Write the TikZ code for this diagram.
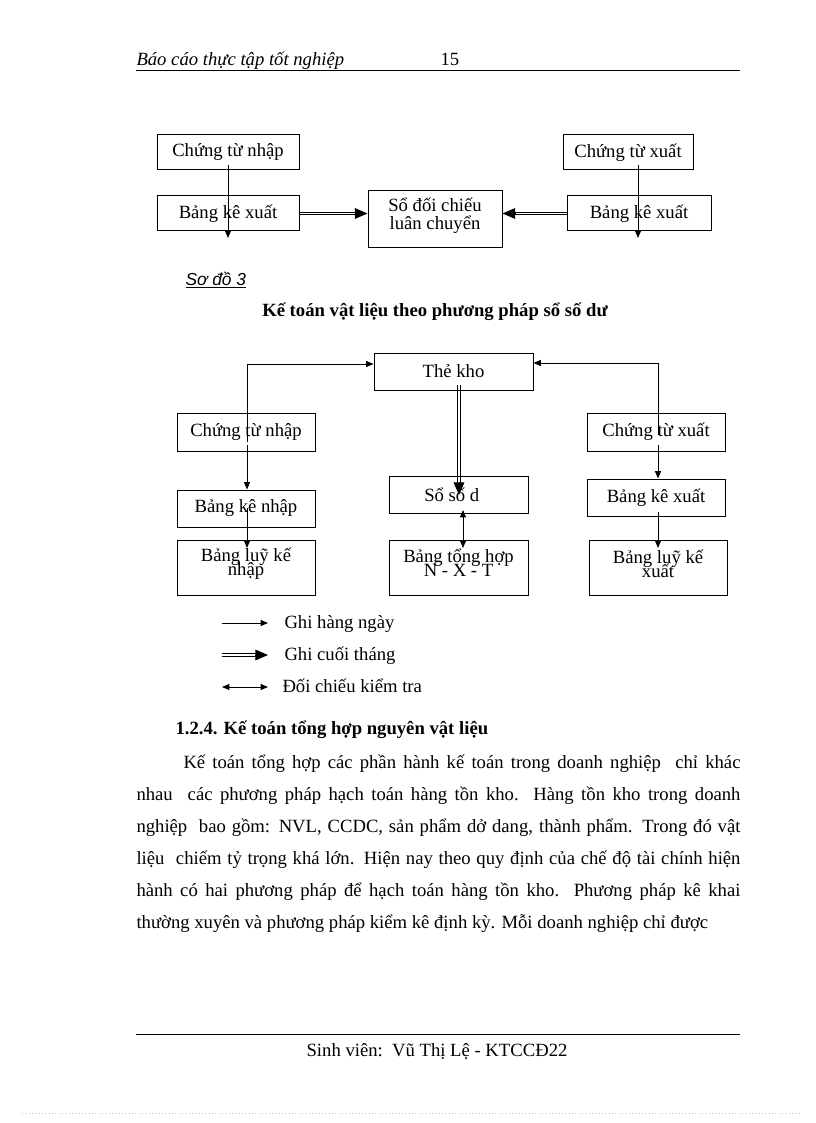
\documentclass[tikz,border=0pt]{standalone}
\usepackage{fontspec}
\usepackage{graphicx}
\setmainfont{Liberation Serif}
\newfontfamily\sansit{Liberation Sans}
\usetikzlibrary{arrows.meta,calc,backgrounds}
\newcommand\fsz{\fontsize{14}{16}\selectfont}
\newcommand\medls{\fontsize{14}{13.5}\selectfont\lineskiplimit-30pt\relax\lineskip0pt\relax}
\newcommand\tightls{\fontsize{14}{10.5}\selectfont\lineskiplimit-30pt\relax\lineskip0pt\relax}
\newsavebox\jlbox
\newcommand\justline[2]{\sbox\jlbox{#2}\ifdim\wd\jlbox>#1\relax\resizebox{#1}{\height}{\usebox\jlbox}\else\makebox[#1][s]{#2}\fi}
\tikzset{
  every node/.style={font=\fsz},
  box/.style 2 args={draw, line width=0.75pt, inner sep=0pt, minimum width=#1*0.75pt, minimum height=#2*0.75pt},
  txt/.style={inner sep=0pt, font=\fsz},
  twoline/.style={inner sep=0pt, align=center, font=\medls},
  tight/.style={inner sep=0pt, align=center, font=\tightls},
  sarr/.style={line width=0.75pt, -{Triangle[length=5.5pt,width=4.5pt]}},
  barr/.style={line width=0.75pt, {Triangle[length=5.5pt,width=4.5pt]}-{Triangle[length=5.5pt,width=4.5pt]}},
  dshaft/.style={double=white, double distance=1.4pt, line width=0.75pt, shorten >=7pt},
  dtip/.style={line width=0.75pt, -{Triangle[length=9.5pt,width=8pt]}},
}
\begin{document}
\begin{tikzpicture}[x=0.75pt,y=-0.75pt,line width=0.75pt]
\useasboundingbox (0,0) rectangle (816,1123);

% header
\node[txt, anchor=base west, font=\fsz\itshape] (hdr) at (136,66) {Báo cáo thực tập tốt nghiệp};
\node[txt, anchor=base west] (pg) at (440,66) {15};
\coordinate (hl1) at (136,71); \coordinate (hl2) at (740,71);
\draw (hl1) -- (hl2);

% top diagram
\node[box={142}{35}] (ctn1) at (228,152.5) {Chứng từ nhập};
\node[box={142}{35}] (bkx1) at (228,213.5) {Bảng kê xuất};
\node[box={134}{56}] (sdc) at (435,219) {};
\node[twoline] (sdct) at (435,216) {Sổ đối chiếu\\luân chuyển};
\node[box={130}{35}] (ctx1) at (628,152.5) {Chứng từ xuất};
\node[box={144}{35}] (bkx2) at (639,213.5) {Bảng kê xuất};

\coordinate (a1s) at (228,165); \coordinate (a1e) at (228,238);
\draw[sarr] (a1s) -- (a1e);
\coordinate (a2s) at (638,165); \coordinate (a2e) at (638,238);
\draw[sarr] (a2s) -- (a2e);

\coordinate (d1e) at (bkx1.east -| sdc.west);
\coordinate (d1t) at ($(d1e)+(-13,0)$);
\coordinate (d2e) at (bkx2.west -| sdc.east);
\coordinate (d2t) at ($(d2e)+(13,0)$);
\begin{scope}[on background layer]
\draw[dshaft] (bkx1.east) -- (d1e);
\draw[dshaft] (bkx2.west) -- (d2e);
\end{scope}
\draw[dtip] (d1t) -- (d1e);
\draw[dtip] (d2t) -- (d2e);

% captions
\node[txt, anchor=base west, font=\fontsize{13}{15}\selectfont\sansit\itshape] (sodo) at (185,285) {\underline{Sơ đồ 3}};
\node[txt, anchor=base, font=\fsz\bfseries] (title) at (435,316) {Kế toán vật liệu theo phương pháp sổ số dư};

% middle diagram
\node[box={159}{37}] (tk) at (453.5,371.5) {Thẻ kho};
\node[box={138}{38}] (ctn2) at (246,432) {Chứng từ nhập};
\node[box={138}{38}] (ctx2) at (656,432) {Chứng từ xuất};
\node[box={138}{37}] (bkn) at (246,508.5) {Bảng kê nhập};
\node[box={139}{37}] (sdu) at (458.5,494.5) {\hspace*{-10pt}Sổ số d};
\node[box={138}{37}] (bkx3) at (656,497.5) {Bảng kê xuất};
\node[box={138}{55}] (blkn) at (246,567.5) {};
\node[tight] (blknt) at (246,563.5) {Bảng luỹ kế\\nhập};
\node[box={139}{55}] (bth) at (458.5,567.5) {};
\node[tight] (btht) at (458.5,563) {Bảng tổng hợp\\N - X - T};
\node[box={138}{55}] (blkx) at (658,567.5) {};
\node[tight] (blkxt) at (658,563.5) {Bảng luỹ kế\\xuất};

\coordinate (p1) at (247,442); \coordinate (p1c) at (247,364);
\draw[sarr] (p1) -- (p1c) -- (p1c -| tk.west);
\coordinate (p2) at (247,445);
\draw[sarr] (p2) -- (p2 |- bkn.north);
\coordinate (q1) at (658,435); \coordinate (q1c) at (658,363);
\draw[sarr] (q1) -- (q1c) -- (q1c -| tk.east);
\coordinate (q2) at (658,445);
\draw[sarr] (q2) -- (q2 |- bkx3.north);

\coordinate (r1) at (459,385); \coordinate (r2) at (459,495);
\coordinate (r2t) at (459,482);
\begin{scope}[on background layer]
\draw[dshaft] (r1) -- (r2);
\end{scope}
\draw[dtip] (r2t) -- (r2);

\coordinate (s1) at (463,510); \coordinate (s2) at (463,548);
\draw[barr] (s1) -- (s2);
\coordinate (t1) at (247,508); \coordinate (t2) at (247,548);
\draw[sarr] (t1) -- (t2);
\coordinate (u1) at (658,512); \coordinate (u2) at (658,548);
\draw[sarr] (u1) -- (u2);

% legend
\coordinate (l1a) at (222,623); \coordinate (l1b) at (268,623);
\draw[sarr] (l1a) -- (l1b);
\node[txt, anchor=base west] (l1t) at (284,628) {Ghi hàng ngày};
\coordinate (l2a) at (222,655); \coordinate (l2b) at (268,655);
\coordinate (l2t0) at (255,655);
\draw[dshaft] (l2a) -- (l2b);
\draw[dtip] (l2t0) -- (l2b);
\node[txt, anchor=base west] (l2t) at (284,660) {Ghi cuối tháng};
\coordinate (l3a) at (222,687); \coordinate (l3b) at (268,687);
\draw[barr] (l3a) -- (l3b);
\node[txt, anchor=base west] (l3t) at (282,692) {Đối chiếu kiểm tra};

% section
\node[txt, anchor=base west, font=\fsz\bfseries] (sec) at (175,734) {1.2.4. Kế toán tổng hợp nguyên vật liệu};
\node[txt, anchor=base west] (b1) at (183,768) {\justline{417.75pt}{Kế toán tổng hợp các phần hành kế toán trong doanh nghiệp\ \ chỉ khác}};
\node[txt, anchor=base west] (b2) at (136,800) {\justline{453pt}{nhau\ \ các phương pháp hạch toán hàng tồn kho. Hàng tồn kho trong doanh}};
\node[txt, anchor=base west] (b3) at (136,832) {\justline{453pt}{nghiệp\ \ bao gồm: NVL, CCDC, sản phẩm dở dang, thành phẩm. Trong đó vật}};
\node[txt, anchor=base west] (b4) at (136,864) {\justline{453pt}{liệu\ \ chiếm tỷ trọng khá lớn. Hiện nay theo quy định của chế độ tài chính hiện}};
\node[txt, anchor=base west] (b5) at (136,896) {\justline{453pt}{hành có hai phương pháp để hạch toán hàng tồn kho. Phương pháp kê khai}};
\node[txt, anchor=base west] (b6) at (136,928) {thường xuyên và phương pháp kiểm kê định kỳ. Mỗi doanh nghiệp chỉ được};

% footer
\coordinate (fl1) at (136,1034); \coordinate (fl2) at (740,1034);
\draw (fl1) -- (fl2);
\node[txt, anchor=base] (ft) at (437,1056) {Sinh viên:\ \ Vũ Thị Lệ - KTCCĐ22};
\coordinate (dl1) at (22,1113); \coordinate (dl2) at (800,1113);
\draw[gray!45, dotted, line width=0.5pt] (dl1) -- (dl2);
\end{tikzpicture}
\end{document}
